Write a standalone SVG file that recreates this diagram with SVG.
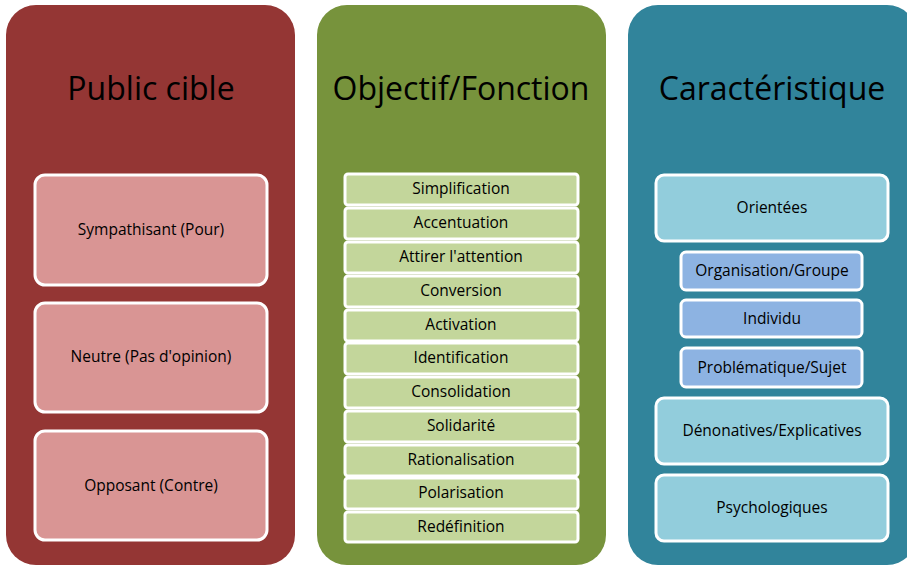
<svg xmlns="http://www.w3.org/2000/svg" width="907" height="566" viewBox="0 0 907 566">
<style>
.title{font-family:"Open Sans","Liberation Sans",sans-serif;font-size:32px;fill:#000;text-anchor:middle}
.lbl{font-family:"Open Sans","Liberation Sans",sans-serif;font-size:15.5px;fill:#000;text-anchor:middle;dominant-baseline:central}
.inner{stroke:#fff;stroke-width:3}
</style>
<rect width="907" height="566" fill="#fff"/>
<g id="col-public">
<rect x="6" y="5" width="289" height="560" rx="30" fill="#943634"/>
<text class="title" x="151" y="100">Public cible</text>
</g>
<g id="col-objectif">
<rect x="317" y="5" width="289" height="560" rx="30" fill="#77933C"/>
<text class="title" x="461" y="100">Objectif/Fonction</text>
</g>
<g id="col-carac">
<rect x="628" y="5" width="289" height="560" rx="30" fill="#31849B"/>
<text class="title" x="772" y="100">Caractéristique</text>
</g>
<g id="n-sympathisant"><rect class="inner" x="35" y="175" width="232" height="110" rx="10" fill="#D99594"/><text class="lbl" x="151" y="229">Sympathisant (Pour)</text></g>
<g id="n-neutre"><rect class="inner" x="35" y="303" width="232" height="109" rx="10" fill="#D99594"/><text class="lbl" x="151" y="356">Neutre (Pas d'opinion)</text></g>
<g id="n-opposant"><rect class="inner" x="35" y="431" width="232" height="109" rx="10" fill="#D99594"/><text class="lbl" x="151" y="485">Opposant (Contre)</text></g>
<g id="n-simplification"><rect class="inner" x="345" y="174" width="233" height="31" rx="3" fill="#C3D69B"/><text class="lbl" x="461" y="188">Simplification</text></g>
<g id="n-accentuation"><rect class="inner" x="345" y="208" width="233" height="31" rx="3" fill="#C3D69B"/><text class="lbl" x="461" y="222">Accentuation</text></g>
<g id="n-attirer"><rect class="inner" x="345" y="242" width="233" height="31" rx="3" fill="#C3D69B"/><text class="lbl" x="461" y="256">Attirer l'attention</text></g>
<g id="n-conversion"><rect class="inner" x="345" y="276" width="233" height="31" rx="3" fill="#C3D69B"/><text class="lbl" x="461" y="290">Conversion</text></g>
<g id="n-activation"><rect class="inner" x="345" y="310" width="233" height="31" rx="3" fill="#C3D69B"/><text class="lbl" x="461" y="324">Activation</text></g>
<g id="n-identification"><rect class="inner" x="345" y="343" width="233" height="31" rx="3" fill="#C3D69B"/><text class="lbl" x="461" y="357">Identification</text></g>
<g id="n-consolidation"><rect class="inner" x="345" y="377" width="233" height="31" rx="3" fill="#C3D69B"/><text class="lbl" x="461" y="391">Consolidation</text></g>
<g id="n-solidarite"><rect class="inner" x="345" y="411" width="233" height="31" rx="3" fill="#C3D69B"/><text class="lbl" x="461" y="425">Solidarité</text></g>
<g id="n-rationalisation"><rect class="inner" x="345" y="445" width="233" height="31" rx="3" fill="#C3D69B"/><text class="lbl" x="461" y="459">Rationalisation</text></g>
<g id="n-polarisation"><rect class="inner" x="345" y="478" width="233" height="31" rx="3" fill="#C3D69B"/><text class="lbl" x="461" y="492">Polarisation</text></g>
<g id="n-redefinition"><rect class="inner" x="345" y="512" width="233" height="30" rx="3" fill="#C3D69B"/><text class="lbl" x="461" y="526">Redéfinition</text></g>
<g id="n-orientees"><rect class="inner" x="656" y="175" width="232" height="66" rx="8" fill="#92CDDC"/><text class="lbl" x="772" y="207">Orientées</text></g>
<g id="n-organisation"><rect class="inner" x="681" y="252" width="181" height="38" rx="5" fill="#8DB3E2"/><text class="lbl" x="772" y="270">Organisation/Groupe</text></g>
<g id="n-individu"><rect class="inner" x="681" y="300" width="181" height="37" rx="5" fill="#8DB3E2"/><text class="lbl" x="772" y="318">Individu</text></g>
<g id="n-problematique"><rect class="inner" x="681" y="348" width="181" height="39" rx="5" fill="#8DB3E2"/><text class="lbl" x="772" y="367">Problématique/Sujet</text></g>
<g id="n-denonatives"><rect class="inner" x="656" y="398" width="232" height="66" rx="8" fill="#92CDDC"/><text class="lbl" x="772" y="430">Dénonatives/Explicatives</text></g>
<g id="n-psychologiques"><rect class="inner" x="656" y="475" width="232" height="66" rx="8" fill="#92CDDC"/><text class="lbl" x="772" y="507">Psychologiques</text></g>
<g id="connectors"></g>
</svg>
